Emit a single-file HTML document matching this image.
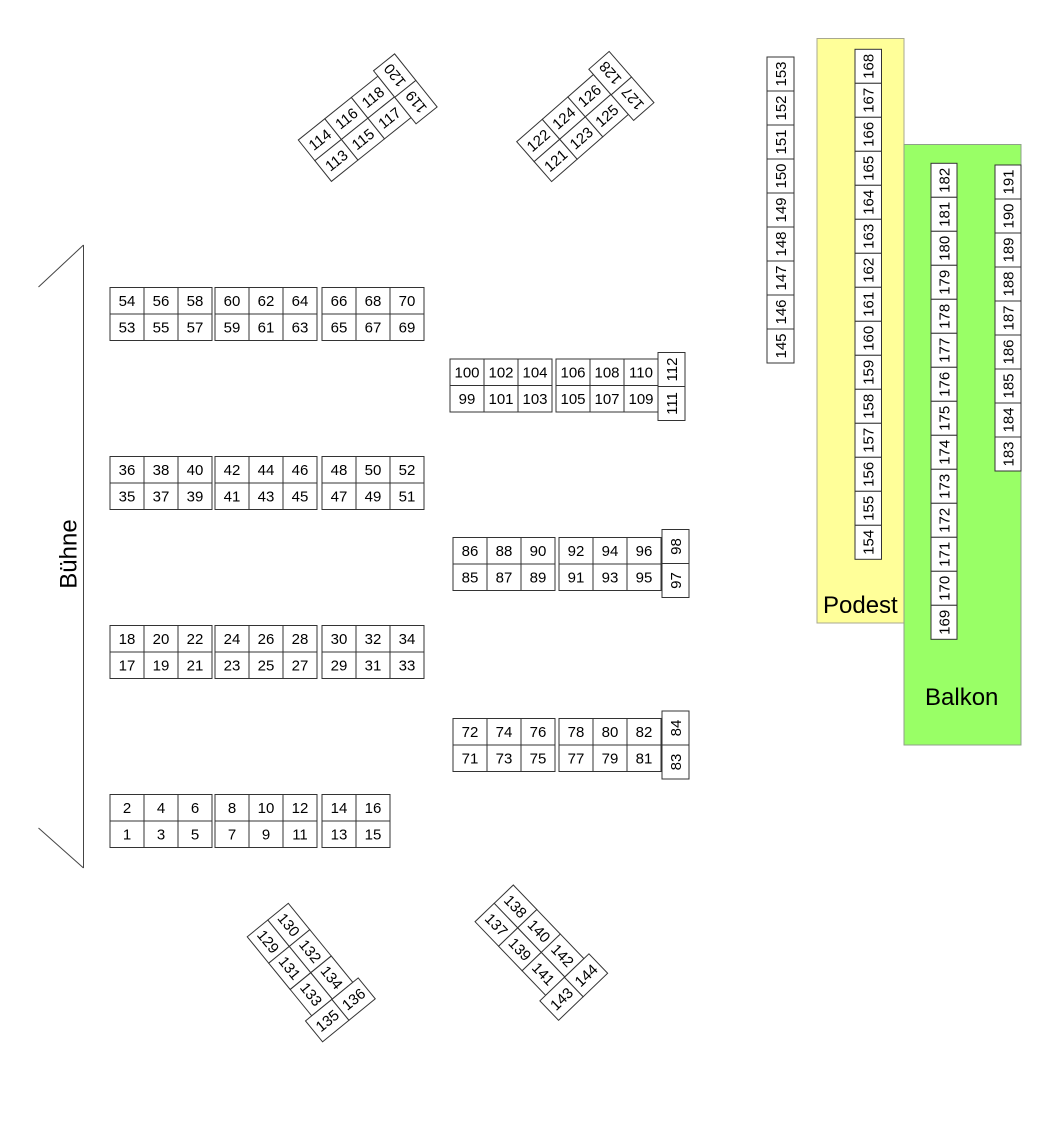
<!DOCTYPE html>
<html>
<head>
<meta charset="utf-8">
<style>
html,body{margin:0;padding:0;background:#fff;}
svg{display:block;}
text{font-family:"Liberation Sans",Arial,sans-serif;font-size:15px;text-anchor:middle;fill:#000;}
text.lbl{font-size:24px;text-anchor:start;}
</style>
</head>
<body>
<svg width="1058" height="1123" viewBox="0 0 1058 1123" xmlns="http://www.w3.org/2000/svg" xmlns:xlink="http://www.w3.org/1999/xlink">
<defs>
<g id="b3" fill="#fff" stroke="#333" stroke-width="1">
<rect x="0" y="0" width="34" height="26.5"/><rect x="34" y="0" width="34" height="26.5"/><rect x="68" y="0" width="34" height="26.5"/>
<rect x="0" y="26.5" width="34" height="26.5"/><rect x="34" y="26.5" width="34" height="26.5"/><rect x="68" y="26.5" width="34" height="26.5"/>
</g>
<g id="b2" fill="#fff" stroke="#333" stroke-width="1">
<rect x="0" y="0" width="34" height="26.5"/><rect x="34" y="0" width="34" height="26.5"/>
<rect x="0" y="26.5" width="34" height="26.5"/><rect x="34" y="26.5" width="34" height="26.5"/>
</g>
<g id="v2" fill="#fff" stroke="#333" stroke-width="1">
<rect x="0" y="0" width="27" height="34"/><rect x="0" y="34" width="27" height="34"/>
</g>
</defs>

<rect x="0" y="0" width="1058" height="1123" fill="#fff"/>

<!-- Podest & Balkon -->
<rect x="817" y="38.5" width="87" height="584.5" fill="#FFFF99" stroke="#A8A890" stroke-width="1"/>
<rect x="904" y="144.5" width="117" height="600.5" fill="#99FF66" stroke="#8FA08A" stroke-width="1"/>
<text class="lbl" x="823" y="613">Podest</text>
<text class="lbl" x="925" y="705">Balkon</text>

<!-- Stage -->
<g stroke="#444" stroke-width="1" fill="none">
<line x1="83.5" y1="245" x2="38.5" y2="287"/>
<line x1="83.5" y1="245" x2="83.5" y2="868"/>
<line x1="38.5" y1="828" x2="83.5" y2="868"/>
</g>
<text class="lbl" style="text-anchor:middle" transform="translate(76.5,554) rotate(-90)" x="0" y="0">Bühne</text>

<!-- Left blocks row 54 -->
<use xlink:href="#b3" x="110" y="287.5"/><use xlink:href="#b3" x="215" y="287.5"/><use xlink:href="#b3" x="322" y="287.5"/>
<text x="127" y="306">54</text><text x="161" y="306">56</text><text x="195" y="306">58</text><text x="232" y="306">60</text><text x="266" y="306">62</text><text x="300" y="306">64</text><text x="339" y="306">66</text><text x="373" y="306">68</text><text x="407" y="306">70</text>
<text x="127" y="332.5">53</text><text x="161" y="332.5">55</text><text x="195" y="332.5">57</text><text x="232" y="332.5">59</text><text x="266" y="332.5">61</text><text x="300" y="332.5">63</text><text x="339" y="332.5">65</text><text x="373" y="332.5">67</text><text x="407" y="332.5">69</text>

<!-- row 36 -->
<use xlink:href="#b3" x="110" y="456.5"/><use xlink:href="#b3" x="215" y="456.5"/><use xlink:href="#b3" x="322" y="456.5"/>
<text x="127" y="475">36</text><text x="161" y="475">38</text><text x="195" y="475">40</text><text x="232" y="475">42</text><text x="266" y="475">44</text><text x="300" y="475">46</text><text x="339" y="475">48</text><text x="373" y="475">50</text><text x="407" y="475">52</text>
<text x="127" y="501.5">35</text><text x="161" y="501.5">37</text><text x="195" y="501.5">39</text><text x="232" y="501.5">41</text><text x="266" y="501.5">43</text><text x="300" y="501.5">45</text><text x="339" y="501.5">47</text><text x="373" y="501.5">49</text><text x="407" y="501.5">51</text>

<!-- row 18 -->
<use xlink:href="#b3" x="110" y="625.5"/><use xlink:href="#b3" x="215" y="625.5"/><use xlink:href="#b3" x="322" y="625.5"/>
<text x="127" y="644">18</text><text x="161" y="644">20</text><text x="195" y="644">22</text><text x="232" y="644">24</text><text x="266" y="644">26</text><text x="300" y="644">28</text><text x="339" y="644">30</text><text x="373" y="644">32</text><text x="407" y="644">34</text>
<text x="127" y="670.5">17</text><text x="161" y="670.5">19</text><text x="195" y="670.5">21</text><text x="232" y="670.5">23</text><text x="266" y="670.5">25</text><text x="300" y="670.5">27</text><text x="339" y="670.5">29</text><text x="373" y="670.5">31</text><text x="407" y="670.5">33</text>

<!-- row 2 -->
<use xlink:href="#b3" x="110" y="794.5"/><use xlink:href="#b3" x="215" y="794.5"/><use xlink:href="#b2" x="322" y="794.5"/>
<text x="127" y="813">2</text><text x="161" y="813">4</text><text x="195" y="813">6</text><text x="232" y="813">8</text><text x="266" y="813">10</text><text x="300" y="813">12</text><text x="339" y="813">14</text><text x="373" y="813">16</text>
<text x="127" y="839.5">1</text><text x="161" y="839.5">3</text><text x="195" y="839.5">5</text><text x="232" y="839.5">7</text><text x="266" y="839.5">9</text><text x="300" y="839.5">11</text><text x="339" y="839.5">13</text><text x="373" y="839.5">15</text>

<!-- Middle row 100 -->
<use xlink:href="#b3" x="450" y="359"/><use xlink:href="#b3" x="556" y="359"/><use xlink:href="#v2" x="658" y="352.5"/>
<text x="467" y="377.5">100</text><text x="501" y="377.5">102</text><text x="535" y="377.5">104</text><text x="573" y="377.5">106</text><text x="607" y="377.5">108</text><text x="641" y="377.5">110</text>
<text x="467" y="404">99</text><text x="501" y="404">101</text><text x="535" y="404">103</text><text x="573" y="404">105</text><text x="607" y="404">107</text><text x="641" y="404">109</text>
<text transform="translate(671.5,369.5) rotate(-90)" x="0" y="5.3">112</text>
<text transform="translate(671.5,403.5) rotate(-90)" x="0" y="5.3">111</text>

<!-- Middle row 86 -->
<use xlink:href="#b3" x="453" y="537.5"/><use xlink:href="#b3" x="559" y="537.5"/><use xlink:href="#v2" x="662" y="529.5"/>
<text x="470" y="556">86</text><text x="504" y="556">88</text><text x="538" y="556">90</text><text x="576" y="556">92</text><text x="610" y="556">94</text><text x="644" y="556">96</text>
<text x="470" y="582.5">85</text><text x="504" y="582.5">87</text><text x="538" y="582.5">89</text><text x="576" y="582.5">91</text><text x="610" y="582.5">93</text><text x="644" y="582.5">95</text>
<text transform="translate(675.5,546.5) rotate(-90)" x="0" y="5.3">98</text>
<text transform="translate(675.5,580.5) rotate(-90)" x="0" y="5.3">97</text>

<!-- Middle row 72 -->
<use xlink:href="#b3" x="453" y="718.5"/><use xlink:href="#b3" x="559" y="718.5"/><use xlink:href="#v2" x="662" y="711"/>
<text x="470" y="737">72</text><text x="504" y="737">74</text><text x="538" y="737">76</text><text x="576" y="737">78</text><text x="610" y="737">80</text><text x="644" y="737">82</text>
<text x="470" y="763.5">71</text><text x="504" y="763.5">73</text><text x="538" y="763.5">75</text><text x="576" y="763.5">77</text><text x="610" y="763.5">79</text><text x="644" y="763.5">81</text>
<text transform="translate(675.5,728) rotate(-90)" x="0" y="5.3">84</text>
<text transform="translate(675.5,762) rotate(-90)" x="0" y="5.3">83</text>

<!-- Rotated block 113-120 -->
<g transform="translate(298.3,140) rotate(-38.7)">
<use xlink:href="#b3" x="0" y="0"/><use xlink:href="#v2" x="102" y="-7"/>
<text x="17" y="18.5">114</text><text x="51" y="18.5">116</text><text x="85" y="18.5">118</text>
<text x="17" y="45">113</text><text x="51" y="45">115</text><text x="85" y="45">117</text>
<text transform="translate(115.5,10) rotate(-90)" x="0" y="5.3">120</text>
<text transform="translate(115.5,44) rotate(-90)" x="0" y="5.3">119</text>
</g>

<!-- Rotated block 121-128 -->
<g transform="translate(516.7,141.7) rotate(-41.2)">
<use xlink:href="#b3" x="0" y="0"/><use xlink:href="#v2" x="102" y="-7"/>
<text x="17" y="18.5">122</text><text x="51" y="18.5">124</text><text x="85" y="18.5">126</text>
<text x="17" y="45">121</text><text x="51" y="45">123</text><text x="85" y="45">125</text>
<text transform="translate(115.5,10) rotate(-90)" x="0" y="5.3">128</text>
<text transform="translate(115.5,44) rotate(-90)" x="0" y="5.3">127</text>
</g>

<!-- Rotated block 129-136 -->
<g transform="translate(288.3,903.3) rotate(50.8)">
<use xlink:href="#b3" x="0" y="0"/><use xlink:href="#v2" x="102" y="-7"/>
<text x="17" y="18.5">130</text><text x="51" y="18.5">132</text><text x="85" y="18.5">134</text>
<text x="17" y="45">129</text><text x="51" y="45">131</text><text x="85" y="45">133</text>
<text transform="translate(115.5,10) rotate(-90)" x="0" y="5.3">136</text>
<text transform="translate(115.5,44) rotate(-90)" x="0" y="5.3">135</text>
</g>

<!-- Rotated block 137-144 -->
<g transform="translate(513.3,885) rotate(46.2)">
<use xlink:href="#b3" x="0" y="0"/><use xlink:href="#v2" x="102" y="-7"/>
<text x="17" y="18.5">138</text><text x="51" y="18.5">140</text><text x="85" y="18.5">142</text>
<text x="17" y="45">137</text><text x="51" y="45">139</text><text x="85" y="45">141</text>
<text transform="translate(115.5,10) rotate(-90)" x="0" y="5.3">144</text>
<text transform="translate(115.5,44) rotate(-90)" x="0" y="5.3">143</text>
</g>

<!-- Column 145-153 -->
<g fill="#fff" stroke="#333" stroke-width="1">
<rect x="767" y="57" width="27" height="34"/><rect x="767" y="91" width="27" height="34"/><rect x="767" y="125" width="27" height="34"/>
<rect x="767" y="159" width="27" height="34"/><rect x="767" y="193" width="27" height="34"/><rect x="767" y="227" width="27" height="34"/>
<rect x="767" y="261" width="27" height="34"/><rect x="767" y="295" width="27" height="34"/><rect x="767" y="329" width="27" height="34"/>
</g>
<text transform="translate(780.5,74) rotate(-90)" x="0" y="5.3">153</text>
<text transform="translate(780.5,108) rotate(-90)" x="0" y="5.3">152</text>
<text transform="translate(780.5,142) rotate(-90)" x="0" y="5.3">151</text>
<text transform="translate(780.5,176) rotate(-90)" x="0" y="5.3">150</text>
<text transform="translate(780.5,210) rotate(-90)" x="0" y="5.3">149</text>
<text transform="translate(780.5,244) rotate(-90)" x="0" y="5.3">148</text>
<text transform="translate(780.5,278) rotate(-90)" x="0" y="5.3">147</text>
<text transform="translate(780.5,312) rotate(-90)" x="0" y="5.3">146</text>
<text transform="translate(780.5,346) rotate(-90)" x="0" y="5.3">145</text>

<!-- Column 154-168 -->
<g fill="#fff" stroke="#333" stroke-width="1">
<rect x="855" y="49.3" width="26.5" height="34"/><rect x="855" y="83.3" width="26.5" height="34"/><rect x="855" y="117.3" width="26.5" height="34"/>
<rect x="855" y="151.3" width="26.5" height="34"/><rect x="855" y="185.3" width="26.5" height="34"/><rect x="855" y="219.3" width="26.5" height="34"/>
<rect x="855" y="253.3" width="26.5" height="34"/><rect x="855" y="287.3" width="26.5" height="34"/><rect x="855" y="321.3" width="26.5" height="34"/>
<rect x="855" y="355.3" width="26.5" height="34"/><rect x="855" y="389.3" width="26.5" height="34"/><rect x="855" y="423.3" width="26.5" height="34"/>
<rect x="855" y="457.3" width="26.5" height="34"/><rect x="855" y="491.3" width="26.5" height="34"/><rect x="855" y="525.3" width="26.5" height="34"/>
</g>
<text transform="translate(868.25,66.3) rotate(-90)" x="0" y="5.3">168</text>
<text transform="translate(868.25,100.3) rotate(-90)" x="0" y="5.3">167</text>
<text transform="translate(868.25,134.3) rotate(-90)" x="0" y="5.3">166</text>
<text transform="translate(868.25,168.3) rotate(-90)" x="0" y="5.3">165</text>
<text transform="translate(868.25,202.3) rotate(-90)" x="0" y="5.3">164</text>
<text transform="translate(868.25,236.3) rotate(-90)" x="0" y="5.3">163</text>
<text transform="translate(868.25,270.3) rotate(-90)" x="0" y="5.3">162</text>
<text transform="translate(868.25,304.3) rotate(-90)" x="0" y="5.3">161</text>
<text transform="translate(868.25,338.3) rotate(-90)" x="0" y="5.3">160</text>
<text transform="translate(868.25,372.3) rotate(-90)" x="0" y="5.3">159</text>
<text transform="translate(868.25,406.3) rotate(-90)" x="0" y="5.3">158</text>
<text transform="translate(868.25,440.3) rotate(-90)" x="0" y="5.3">157</text>
<text transform="translate(868.25,474.3) rotate(-90)" x="0" y="5.3">156</text>
<text transform="translate(868.25,508.3) rotate(-90)" x="0" y="5.3">155</text>
<text transform="translate(868.25,542.3) rotate(-90)" x="0" y="5.3">154</text>

<!-- Column 169-182 -->
<g fill="#fff" stroke="#333" stroke-width="1">
<rect x="931" y="163.3" width="26" height="34"/><rect x="931" y="197.3" width="26" height="34"/><rect x="931" y="231.3" width="26" height="34"/>
<rect x="931" y="265.3" width="26" height="34"/><rect x="931" y="299.3" width="26" height="34"/><rect x="931" y="333.3" width="26" height="34"/>
<rect x="931" y="367.3" width="26" height="34"/><rect x="931" y="401.3" width="26" height="34"/><rect x="931" y="435.3" width="26" height="34"/>
<rect x="931" y="469.3" width="26" height="34"/><rect x="931" y="503.3" width="26" height="34"/><rect x="931" y="537.3" width="26" height="34"/>
<rect x="931" y="571.3" width="26" height="34"/><rect x="931" y="605.3" width="26" height="34"/>
</g>
<text transform="translate(944,180.3) rotate(-90)" x="0" y="5.3">182</text>
<text transform="translate(944,214.3) rotate(-90)" x="0" y="5.3">181</text>
<text transform="translate(944,248.3) rotate(-90)" x="0" y="5.3">180</text>
<text transform="translate(944,282.3) rotate(-90)" x="0" y="5.3">179</text>
<text transform="translate(944,316.3) rotate(-90)" x="0" y="5.3">178</text>
<text transform="translate(944,350.3) rotate(-90)" x="0" y="5.3">177</text>
<text transform="translate(944,384.3) rotate(-90)" x="0" y="5.3">176</text>
<text transform="translate(944,418.3) rotate(-90)" x="0" y="5.3">175</text>
<text transform="translate(944,452.3) rotate(-90)" x="0" y="5.3">174</text>
<text transform="translate(944,486.3) rotate(-90)" x="0" y="5.3">173</text>
<text transform="translate(944,520.3) rotate(-90)" x="0" y="5.3">172</text>
<text transform="translate(944,554.3) rotate(-90)" x="0" y="5.3">171</text>
<text transform="translate(944,588.3) rotate(-90)" x="0" y="5.3">170</text>
<text transform="translate(944,622.3) rotate(-90)" x="0" y="5.3">169</text>

<!-- Column 183-191 -->
<g fill="#fff" stroke="#333" stroke-width="1">
<rect x="995" y="165" width="26" height="34"/><rect x="995" y="199" width="26" height="34"/><rect x="995" y="233" width="26" height="34"/>
<rect x="995" y="267" width="26" height="34"/><rect x="995" y="301" width="26" height="34"/><rect x="995" y="335" width="26" height="34"/>
<rect x="995" y="369" width="26" height="34"/><rect x="995" y="403" width="26" height="34"/><rect x="995" y="437" width="26" height="34"/>
</g>
<text transform="translate(1008,182) rotate(-90)" x="0" y="5.3">191</text>
<text transform="translate(1008,216) rotate(-90)" x="0" y="5.3">190</text>
<text transform="translate(1008,250) rotate(-90)" x="0" y="5.3">189</text>
<text transform="translate(1008,284) rotate(-90)" x="0" y="5.3">188</text>
<text transform="translate(1008,318) rotate(-90)" x="0" y="5.3">187</text>
<text transform="translate(1008,352) rotate(-90)" x="0" y="5.3">186</text>
<text transform="translate(1008,386) rotate(-90)" x="0" y="5.3">185</text>
<text transform="translate(1008,420) rotate(-90)" x="0" y="5.3">184</text>
<text transform="translate(1008,454) rotate(-90)" x="0" y="5.3">183</text>

</svg>
</body>
</html>
